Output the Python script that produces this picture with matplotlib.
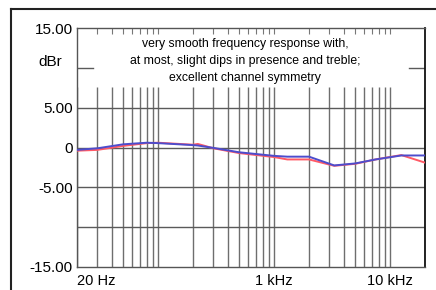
import matplotlib
matplotlib.use("Agg")
import matplotlib.pyplot as plt
from matplotlib.lines import Line2D

plt.rcParams['font.family'] = ['Liberation Sans', 'DejaVu Sans']

# 周波数特性 (dBr)
freqs = [20, 30, 50, 80, 100, 200, 220, 300, 500, 1000, 1300, 2000, 3300, 5000, 7500, 12500, 20000]
left_db = [-0.3, -0.1, 0.4, 0.6, 0.55, 0.3, 0.25, -0.05, -0.6, -1.05, -1.15, -1.15, -2.25, -2.0, -1.5, -1.0, -1.0]
right_db = [-0.4, -0.3, 0.2, 0.55, 0.6, 0.35, 0.45, -0.1, -0.7, -1.2, -1.5, -1.5, -2.3, -2.05, -1.5, -0.95, -1.9]

grid_freqs = [20, 30, 40, 50, 60, 70, 80, 90, 100,
              200, 300, 400, 500, 600, 700, 800, 900, 1000,
              2000, 3000, 4000, 5000, 6000, 7000, 8000, 9000, 10000, 20000]
x_labels = ["20 Hz", "1 kHz", "10 kHz"]
x_label_freqs = [20, 1000, 10000]
y_ticks = [15, 5, 0, -5, -15]
y_labels = ["15.00", "5.00", "0", "-5.00", "-15.00"]
h_grid = [5, 0, -5, -10]

note = ("very smooth frequency response with,\n"
        "at most, slight dips in presence and treble;\n"
        "excellent channel symmetry")

fig = plt.figure(figsize=(4.36, 2.90), dpi=100)
ax = fig.add_axes([77 / 436, 23 / 290, 348 / 436, 239 / 290])
ax.set_xscale('log')
ax.set_xlim(20, 20000)
ax.set_ylim(-15, 15)

# grid
ax.vlines(grid_freqs, -15, 7.6, color='#6e6e6e', lw=1.0, zorder=1)
for y in h_grid:
    ax.axhline(y, color='#5a5a5a', lw=1.0, zorder=1)
# short marks at 10 dB
ax.plot([20, 27.3], [10, 10], color='#5a5a5a', lw=1.0, zorder=1)
ax.plot([14600, 20000], [10, 10], color='#5a5a5a', lw=1.0, zorder=1)

ax.plot(freqs, right_db, color='#ff5a66', lw=1.4, zorder=3)
ax.plot(freqs, left_db, color='#4d4ccc', lw=1.4, zorder=4)

ax.set_yticks(y_ticks, y_labels)
ax.set_xticks(x_label_freqs, x_labels)
ax.minorticks_off()
ax.tick_params(axis='y', length=0, pad=3, labelsize=11)
ax.tick_params(axis='x', length=0, pad=5, labelsize=10.5)
ax.get_xticklabels()[0].set_horizontalalignment('left')

top = ax.secondary_xaxis('top')
top.set_xticks(grid_freqs[1:-1])
top.minorticks_off()
top.tick_params(direction='in', length=4, color='#777777', labeltop=False)
top.spines['top'].set_visible(False)

for side in ['left', 'top', 'bottom']:
    ax.spines[side].set_color('#555555')
    ax.spines[side].set_linewidth(1.0)
ax.spines['right'].set_color('#111111')
ax.spines['right'].set_linewidth(1.3)

ax.text(0.483, 0.862, note, transform=ax.transAxes, ha='center', va='center',
        fontsize=8.8, linespacing=1.57, zorder=5)

fig.text(50 / 436, 1 - 62 / 290, "dBr", ha='center', va='center', fontsize=11)

# outer frame
fig.add_artist(Line2D([11 / 436, 11 / 436], [0, 1 - 9 / 290], color='#222222', lw=1.5))
fig.add_artist(Line2D([11 / 436, 1], [1 - 9 / 290, 1 - 9 / 290], color='#222222', lw=1.5))

fig.savefig("out.png", dpi=100)
